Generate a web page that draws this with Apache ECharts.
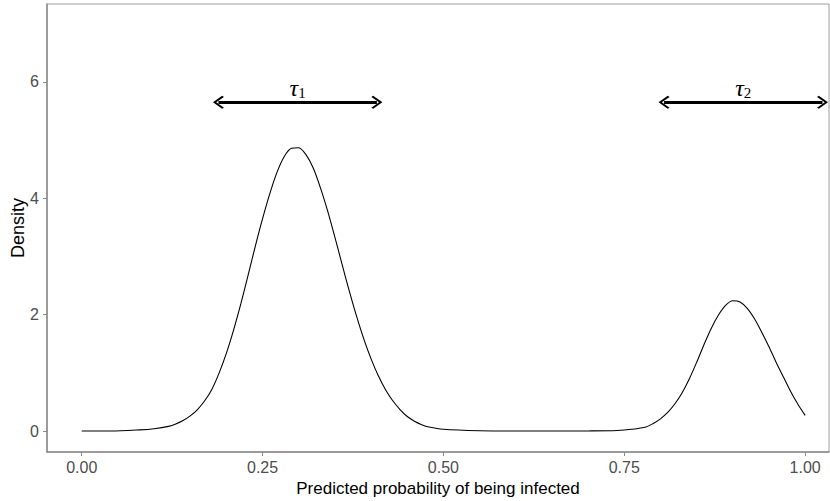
<!DOCTYPE html>
<html>
<head>
<meta charset="utf-8">
<script src="https://cdn.jsdelivr.net/npm/echarts@6/dist/echarts.min.js"></script>
<style>
  html, body { margin: 0; padding: 0; background: #fff; }
  #chart { width: 830px; height: 501px; }
</style>
</head>
<body>
<div id="chart"></div>
<script>
// density curve
const probX = [0, 0.04, 0.08, 0.10, 0.12, 0.13, 0.14, 0.15, 0.16, 0.17, 0.18, 0.19,
  0.20, 0.21, 0.22, 0.23, 0.24, 0.25, 0.26, 0.27, 0.28, 0.29, 0.30, 0.31,
  0.32, 0.33, 0.34, 0.35, 0.36, 0.37, 0.38, 0.39, 0.40, 0.41, 0.42, 0.43,
  0.44, 0.45, 0.46, 0.47, 0.48, 0.50, 0.55, 0.60, 0.65, 0.70, 0.74, 0.76,
  0.78, 0.79, 0.80, 0.81, 0.82, 0.83, 0.84, 0.85, 0.86, 0.87, 0.88, 0.89,
  0.90, 0.91, 0.92, 0.93, 0.94, 0.95, 0.96, 0.97, 0.98, 0.99, 1.00];
const densityY = [0, 0, 0.02, 0.04, 0.08, 0.12, 0.18, 0.26, 0.37, 0.52, 0.72, 1.0,
  1.34, 1.74, 2.19, 2.68, 3.18, 3.65, 4.08, 4.45, 4.72, 4.86, 4.87, 4.75,
  4.52, 4.18, 3.78, 3.33, 2.86, 2.4, 1.97, 1.58, 1.24, 0.95, 0.71, 0.52,
  0.37, 0.25, 0.17, 0.11, 0.07, 0.03, 0.005, 0, 0, 0.002, 0.01, 0.03,
  0.07, 0.13, 0.21, 0.32, 0.47, 0.66, 0.9, 1.18, 1.48, 1.76, 1.99, 2.16,
  2.24, 2.22, 2.11, 1.93, 1.7, 1.45, 1.18, 0.93, 0.68, 0.46, 0.27];

const xTicks = [0, 0.25, 0.5, 0.75, 1];
const yTicks = [0, 2, 4, 6];

// threshold ranges drawn as double arrows
const arrowSubs = ['1', '2'];
const arrowFrom = [0.189, 0.805];
const arrowTo = [0.408, 1.024];
const arrowLevel = 5.65;

const chevron = 'path://M0,0 L10,9 L8.3,10.8 L0,3.2 L-8.3,10.8 L-10,9 Z';

const chart = echarts.init(document.getElementById('chart'), null, { renderer: 'svg' });

const option = {
  animation: false,
  grid: {
    left: 47, right: 1, top: 4, bottom: 49,
    outerBoundsMode: 'none',
    show: true, borderColor: '#a0a0a0', borderWidth: 1
  },
  xAxis: {
    type: 'value',
    min: -0.048, max: 1.033,
    name: 'Predicted probability of being infected',
    nameLocation: 'middle',
    nameGap: 28,
    nameMoveOverlap: false,
    nameTextStyle: { color: '#000', fontSize: 17, fontFamily: 'Liberation Sans' },
    axisLine: { onZero: false, lineStyle: { color: '#8a8a8a', width: 1.5 } },
    axisTick: { customValues: xTicks, length: 4, lineStyle: { color: '#8a8a8a' } },
    axisLabel: {
      customValues: xTicks, margin: 7,
      color: '#4d4d4d', fontSize: 16, fontFamily: 'Liberation Sans',
      formatter: v => v.toFixed(2)
    },
    splitLine: { show: false }
  },
  yAxis: {
    type: 'value',
    min: -0.36, max: 7.34,
    name: 'Density',
    nameLocation: 'middle',
    nameGap: 20,
    nameMoveOverlap: false,
    nameTextStyle: { color: '#000', fontSize: 18, fontFamily: 'Liberation Sans' },
    axisLine: { show: true, onZero: false, lineStyle: { color: '#8a8a8a', width: 1.5 } },
    axisTick: { show: true, customValues: yTicks, length: 4, lineStyle: { color: '#8a8a8a' } },
    axisLabel: {
      customValues: yTicks, margin: 8,
      color: '#4d4d4d', fontSize: 16, fontFamily: 'Liberation Sans'
    },
    splitLine: { show: false }
  },
  series: [{
    type: 'line',
    data: probX.map((x, i) => [x, densityY[i]]),
    smooth: 0.3,
    showSymbol: false,
    lineStyle: { color: '#000', width: 1.1 },
    markLine: {
      silent: true,
      symbol: [chevron, chevron],
      symbolSize: [13, 11],
      lineStyle: { type: 'solid', color: '#000', width: 2.8 },
      itemStyle: { color: '#000' },
      label: {
        show: true,
        position: 'middle',
        distance: 2,
        formatter: p => '{t|τ}{s|' + p.name + '}',
        rich: {
          t: { fontSize: 24, fontStyle: 'italic', fontFamily: 'Liberation Serif', color: '#000',
               lineHeight: 24, verticalAlign: 'bottom' },
          s: { fontSize: 15, fontFamily: 'Liberation Serif', color: '#000',
               lineHeight: 12, verticalAlign: 'bottom' }
        }
      },
      data: arrowSubs.map((n, i) => [
        { name: n, coord: [arrowFrom[i], arrowLevel] },
        { coord: [arrowTo[i], arrowLevel] }
      ])
    }
  }]
};

chart.setOption(option);
</script>
</body>
</html>
